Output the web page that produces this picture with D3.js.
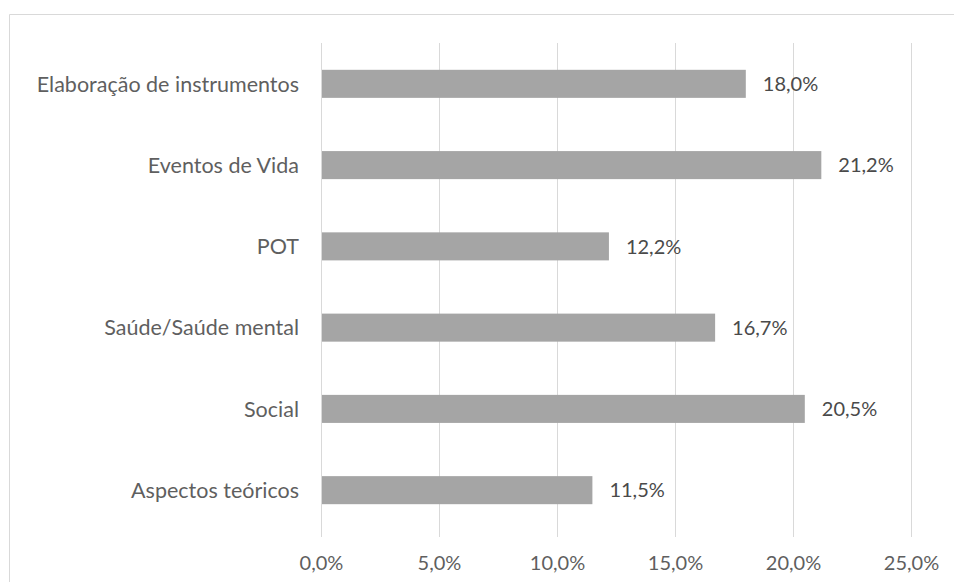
<!DOCTYPE html>
<html>
<head>
<meta charset="utf-8">
<script src="https://cdn.jsdelivr.net/npm/d3@7"></script>
<style>
  body { margin: 0; background: #fff; }
  svg text { font-family: Lato, "Open Sans", sans-serif; }
</style>
</head>
<body>
<div id="chart"></div>
<script>
// categories (top to bottom) and values in percent
var categories = ["Elaboração de instrumentos", "Eventos de Vida", "POT", "Saúde/Saúde mental", "Social", "Aspectos teóricos"];
var values = [18.0, 21.2, 12.2, 16.7, 20.5, 11.5];
var ticks = [0, 5, 10, 15, 20, 25];

var W = 954, H = 582;
var margin = {top: 43, right: 43, bottom: 51, left: 321};
var width = W - margin.left - margin.right,
    height = H - margin.top - margin.bottom;

var fmt = function(v) { return v.toFixed(1).replace(".", ",") + "%"; };

var svg = d3.select("#chart").append("svg")
    .attr("width", W).attr("height", H);

// chart frame (cropped at right and bottom)
svg.append("path")
    .attr("d", "M9.5," + H + "V14.5H" + W)
    .attr("fill", "none")
    .attr("stroke", "#d9d9d9");

var g = svg.append("g")
    .attr("transform", "translate(" + margin.left + "," + margin.top + ")");

var x = d3.scaleLinear().domain([0, 25]).range([0, width]);
var y = d3.scaleBand().domain(categories).range([0, height]).paddingInner(0.655).paddingOuter(0.33);

// gridlines
g.selectAll(".grid")
    .data(ticks)
    .enter().append("line")
    .attr("x1", function(d) { return Math.round(x(d)) + 0.5; })
    .attr("x2", function(d) { return Math.round(x(d)) + 0.5; })
    .attr("y1", 0)
    .attr("y2", height + 6)
    .attr("stroke", "#d9d9d9");

// bars
g.selectAll(".bar")
    .data(values)
    .enter().append("rect")
    .attr("x", x(0) + 1)
    .attr("y", function(d, i) { return y(categories[i]); })
    .attr("width", function(d) { return x(d) - x(0) - 1; })
    .attr("height", y.bandwidth())
    .attr("fill", "#a5a5a5");

// value labels
g.selectAll(".val")
    .data(values)
    .enter().append("text")
    .attr("x", function(d) { return x(d) + 17; })
    .attr("y", function(d, i) { return y(categories[i]) + y.bandwidth() / 2; })
    .attr("dy", "0.36em")
    .attr("font-size", 20)
    .attr("fill", "#4a4a4a")
    .text(fmt);

// category labels
g.selectAll(".cat")
    .data(categories)
    .enter().append("text")
    .attr("x", -22)
    .attr("y", function(d) { return y(d) + y.bandwidth() / 2; })
    .attr("dy", "0.36em")
    .attr("text-anchor", "end")
    .attr("font-size", 21.5)
    .attr("fill", "#5f5f5f")
    .text(function(d) { return d; });

// x axis labels
var xAxis = g.append("g")
    .attr("transform", "translate(0," + height + ")")
    .call(d3.axisBottom(x).tickValues(ticks).tickSize(0).tickPadding(25).tickFormat(fmt));
xAxis.select(".domain").remove();
xAxis.selectAll("text")
    .attr("font-size", 20)
    .attr("fill", "#5f5f5f")
    .style("font-family", "Lato, 'Open Sans', sans-serif");
</script>
</body>
</html>
